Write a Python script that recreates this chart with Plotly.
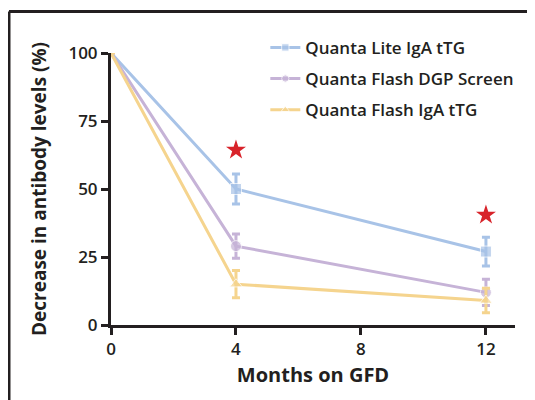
import plotly.graph_objects as go

months = [0, 4, 12]
series_names = ["Quanta Lite IgA tTG", "Quanta Flash DGP Screen", "Quanta Flash IgA tTG"]
lite_tTG = [100, 50, 27]
lite_tTG_err = [0, 5.5, 5.3]
flash_dgp = [100, 29, 12]
flash_dgp_err = [0, 4.5, 4.8]
flash_tTG = [100, 15, 9]
flash_tTG_err = [0, 5.0, 4.5]
star_x = [4, 12]
star_y = [64.3, 40.4]
x_ticks = [0, 4, 8, 12]
y_ticks = [0, 25, 50, 75, 100]

colors = ["#a8c3e7", "#c6b3d7", "#f5d48e"]
symbols = ["square", "circle", "triangle-up"]
TXT = "#231f20"
FONT = "Open Sans"

fig = go.Figure()
for i, (name, ys, es) in enumerate(zip(series_names,
                                       [lite_tTG, flash_dgp, flash_tTG],
                                       [lite_tTG_err, flash_dgp_err, flash_tTG_err])):
    fig.add_trace(go.Scatter(
        x=months, y=ys, name=name, mode="lines+markers",
        legendgroup=f"g{i}",
        line=dict(color=colors[i], width=3),
        marker=dict(symbol=symbols[i], size=[0, 11, 11], color=colors[i]),
        error_y=dict(type="data", array=es, color=colors[i], thickness=3, width=4),
        cliponaxis=False,
    ))

fig.add_trace(go.Scatter(
    x=star_x, y=star_y, mode="markers", showlegend=False,
    marker=dict(symbol="star", size=15, color="#d8232a"),
    cliponaxis=False,
))

fig.update_layout(
    width=535, height=400,
    margin=dict(l=103, r=28, t=45, b=83),
    paper_bgcolor="white", plot_bgcolor="white",
    font=dict(family=FONT, color=TXT),
    legend=dict(x=0.382, y=1.085, xanchor="left", yanchor="top",
                font=dict(size=17, family=FONT, color=TXT, weight=600),
                tracegroupgap=6, traceorder="grouped",
                bgcolor="rgba(0,0,0,0)"),
    xaxis=dict(range=[0, 12.93], tickvals=x_ticks, showgrid=False, zeroline=False,
               showline=True, linecolor=TXT, linewidth=3,
               ticks="outside", ticklen=7, tickwidth=2.5, tickcolor=TXT,
               tickfont=dict(size=17, family=FONT, color=TXT, weight=600),
               title=dict(text="Months on GFD", standoff=9,
                          font=dict(size=20, family=FONT, color=TXT, weight="bold"))),
    yaxis=dict(range=[0, 100], tickvals=y_ticks, showgrid=False, zeroline=False,
               showline=True, linecolor=TXT, linewidth=3,
               ticks="outside", ticklen=7, tickwidth=2.5, tickcolor=TXT,
               tickfont=dict(size=17, family=FONT, color=TXT, weight=600),
               title=dict(text="Decrease in antibody levels (%)", standoff=17,
                          font=dict(size=19, family=FONT, color=TXT, weight="bold"))),
)

# frame visible on left and top edges
fig.add_shape(type="line", xref="paper", yref="paper", x0=-0.2525, x1=-0.2525, y0=-0.5, y1=1.153,
              line=dict(color=TXT, width=3))
fig.add_shape(type="line", xref="paper", yref="paper", x0=-0.2525, x1=1.2, y0=1.153, y1=1.153,
              line=dict(color=TXT, width=3))

fig.write_html("out.html")
